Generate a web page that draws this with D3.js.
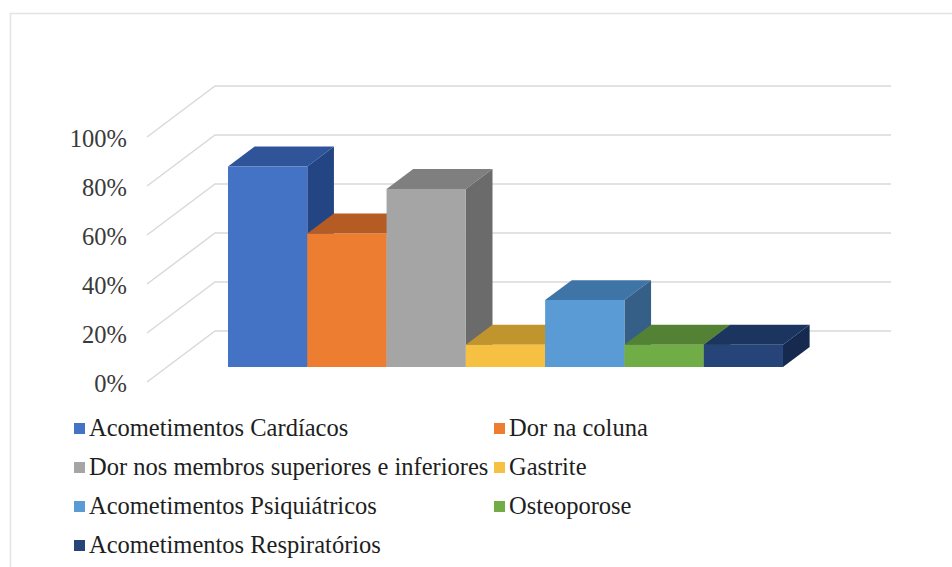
<!DOCTYPE html>
<html><head><meta charset="utf-8">
<script src="https://cdn.jsdelivr.net/npm/d3@7/dist/d3.min.js"></script>
<style>body{margin:0;background:#fff}svg{display:block}
.ser{font-family:"Liberation Serif","Tinos","Times New Roman","DejaVu Serif",serif}</style>
</head><body>
<script>
const categories = ["Acometimentos Cardíacos","Dor na coluna","Dor nos membros superiores e inferiores","Gastrite","Acometimentos Psiquiátricos","Osteoporose","Acometimentos Respiratórios"];
const values = [0.818, 0.545, 0.727, 0.091, 0.273, 0.091, 0.091];
const tickValues = [0, 0.2, 0.4, 0.6, 0.8, 1.0];
const frontColors = ["#4472C4","#ED7D31","#A5A5A5","#F6C143","#5B9BD5","#70AD47","#264478"];
const topColors   = ["#30549A","#B55B24","#7F7F7F","#C1952E","#3F74A6","#548234","#1B3460"];
const sideColors  = ["#244583","#9E4F1E","#6B6B6B","#A87F24","#365F88","#466E2C","#152A4E"];

const W = 952, H = 567;
const svg = d3.select("body").append("svg").attr("width", W).attr("height", H);

// frame
svg.append("rect").attr("x",10.5).attr("y",13.5).attr("width",1000).attr("height",1000)
  .attr("fill","none").attr("stroke","#e3e3e3").attr("stroke-width",1.5);

// oblique projection
const DX = 68, DY = -51;
const y = d3.scaleLinear().domain([0,1]).range([382, 137]);
const P = (xw, v, z) => [xw + DX*z, y(v) + DY*z];
const wallX0 = 147, wallX1 = 823;
const x = d3.scaleBand().domain(categories).range([208, 763]).paddingInner(0).paddingOuter(0);
const z0 = 0.294, z1 = 0.686;

// grid
const grid = svg.append("g").attr("stroke","#d9d9d9").attr("stroke-width",1.5).attr("fill","none");
tickValues.forEach(t => {
  const a = P(wallX0, t, 0), b = P(wallX0, t, 1), c = P(wallX1, t, 1);
  grid.append("polyline").attr("points", [a,b,c].map(p=>p.join(",")).join(" "));
});

// tick labels
svg.append("g").selectAll("text").data(tickValues).join("text")
  .attr("class","ser")
  .attr("x", 127).attr("y", d => y(d) + 10)
  .attr("text-anchor","end")
  .attr("font-size", 24.5).attr("fill","#3a3a3a")
  .text(d => d3.format(".0%")(d));

// bars
const bars = svg.append("g");
const poly = pts => pts.map(p=>p.join(",")).join(" ");
categories.forEach((c,i) => {
  const v = values[i], xl = x(c), xr = xl + x.bandwidth();
  const g = bars.append("g");
  g.append("polygon").attr("fill", topColors[i])
    .attr("points", poly([P(xl,v,z0),P(xr,v,z0),P(xr,v,z1),P(xl,v,z1)]));
  g.append("polygon").attr("fill", sideColors[i])
    .attr("points", poly([P(xr,0,z0),P(xr,v,z0),P(xr,v,z1),P(xr,0,z1)]));
  g.append("polygon").attr("fill", frontColors[i])
    .attr("points", poly([P(xl,0,z0),P(xr,0,z0),P(xr,v,z0),P(xl,v,z0)]));
});

// legend
const legendPos = [[74,436],[494,436],[74,475],[494,475],[74,514],[494,514],[74,553]];
const lg = svg.append("g");
categories.forEach((c,i) => {
  const [lx, ly] = legendPos[i];
  lg.append("rect").attr("x", lx).attr("y", ly-13).attr("width", 11).attr("height", 11).attr("fill", frontColors[i]);
  lg.append("text").attr("class","ser").attr("x", lx+15).attr("y", ly)
    .attr("font-size", 24.5).attr("fill","#1e1e1e").text(c);
});
</script>
</body></html>
